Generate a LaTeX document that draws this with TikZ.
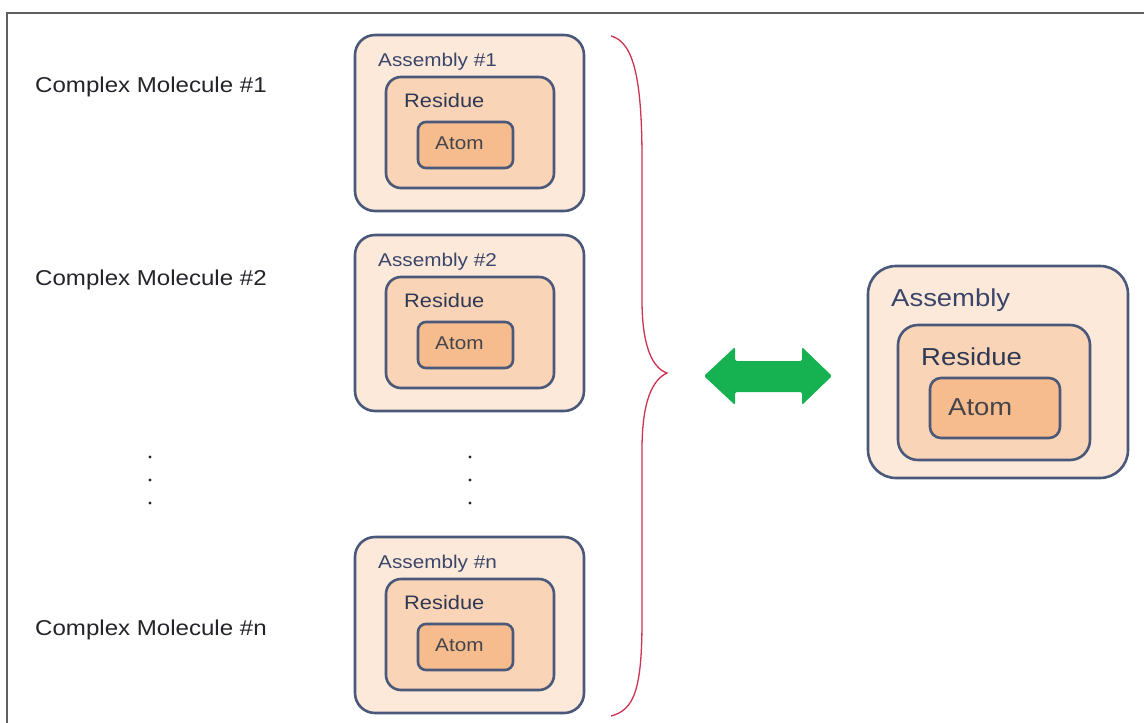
\documentclass[tikz,border=0pt]{standalone}
\usepackage{fontspec}
\setmainfont{Liberation Sans}
\definecolor{edge}{RGB}{74,88,122}
\definecolor{outerfill}{RGB}{252,233,218}
\definecolor{resfill}{RGB}{250,212,182}
\definecolor{atomfill}{RGB}{247,188,142}
\definecolor{arrowgreen}{RGB}{22,178,82}
\definecolor{bracered}{RGB}{205,50,80}
\definecolor{framegray}{RGB}{95,95,95}
\definecolor{labelblue}{RGB}{58,70,105}
\definecolor{textdark}{RGB}{35,35,42}
\begin{document}
\begin{tikzpicture}[x=1pt,y=-1pt,
  box/.style={draw=edge, line width=2.6pt, rectangle, inner sep=0pt},
  outerbox/.style={box, fill=outerfill, rounded corners=20pt, minimum width=229pt, minimum height=176pt},
  resbox/.style={box, fill=resfill, rounded corners=15pt, minimum width=168pt, minimum height=111pt},
  atombox/.style={box, fill=atomfill, rounded corners=8pt, minimum width=95pt, minimum height=46pt},
  bigouter/.style={box, fill=outerfill, rounded corners=28pt, minimum width=260pt, minimum height=212pt},
  bigres/.style={box, fill=resfill, rounded corners=20pt, minimum width=192pt, minimum height=135pt},
  bigatom/.style={box, fill=atomfill, rounded corners=11pt, minimum width=130pt, minimum height=60pt},
  lbl/.style={anchor=west, inner sep=0pt, xscale=1.12},
  asmlbl/.style={lbl, text=labelblue, font=\fontsize{18.5}{18.5}\selectfont},
  reslbl/.style={lbl, text=labelblue!80!black, font=\fontsize{19.5}{19.5}\selectfont},
  atomlbl/.style={lbl, text=textdark!85!white, font=\fontsize{18.5}{18.5}\selectfont},
  mollbl/.style={lbl, text=textdark, font=\fontsize{21.5}{21.5}\selectfont},
  biglbl/.style={anchor=west, inner sep=0pt, xscale=1.12, font=\fontsize{24.5}{24.5}\selectfont},
  dot/.style={circle, fill=textdark, inner sep=0pt, minimum size=3.4pt}
]
\useasboundingbox (0,0) rectangle (1144,723);
\fill[white] (0,0) rectangle (1144,723);
% frame
\draw[framegray, line width=1.5pt] (1144,13) -- (7,13) -- (7,723);

% left column blocks
\foreach \T/\k/\tg in {35/1/1, 235/2/2, 537/n/n} {
  \node[outerbox] (asm\k) at (469.5,\T+88) {};
  \node[resbox] (res\k) at (470,\T+97.5) {};
  \node[atombox] (atm\k) at (465.5,\T+110) {};
  \node[asmlbl] (asmlabel\k) at (378,\T+27) {Assembly \#\tg};
  \node[reslbl] (reslabel\k) at (404,\T+66) {Residue};
  \node[atomlbl] (atmlabel\k) at (435,\T+108) {Atom};
}

% molecule labels
\node[mollbl] (mol1) at (35,87) {Complex Molecule \#1};
\node[mollbl] (mol2) at (35,280) {Complex Molecule \#2};
\node[mollbl] (moln) at (35,630) {Complex Molecule \#n};

% dots
\foreach \y/\i in {457/a, 480/b, 503/c} {
  \node[dot] (ldot\i) at (150,\y) {};
  \node[dot] (rdot\i) at (470,\y) {};
}

% brace
\coordinate (btop) at (611,36);
\coordinate (btip) at (667,373);
\coordinate (bbot) at (611,716);
\draw[bracered, line width=1.3pt]
  (btop) .. controls (634,42) and (642,80) .. (642,160)
  -- (642,300) .. controls (642,345) and (652,368) .. (btip)
  .. controls (652,380) and (642,402) .. (642,450)
  -- (642,620) .. controls (642,690) and (634,710) .. (bbot);

% green double arrow
\fill[arrowgreen, rounded corners=1.5pt]
  (704,376) -- (735,347) -- (735,361) -- (802,361) -- (802,347) -- (832,376)
  -- (802,405) -- (802,392) -- (735,392) -- (735,405) -- cycle;

% right block
\node[bigouter] (asmR) at (998,372) {};
\node[bigres] (resR) at (994,392.5) {};
\node[bigatom] (atmR) at (995,408) {};
\node[biglbl, text=labelblue] (asmlabelR) at (891,300) {Assembly};
\node[biglbl, text=labelblue!80!black] (reslabelR) at (921,357) {Residue};
\node[biglbl, text=textdark!85!white] (atmlabelR) at (948,407) {Atom};
\end{tikzpicture}
\end{document}
